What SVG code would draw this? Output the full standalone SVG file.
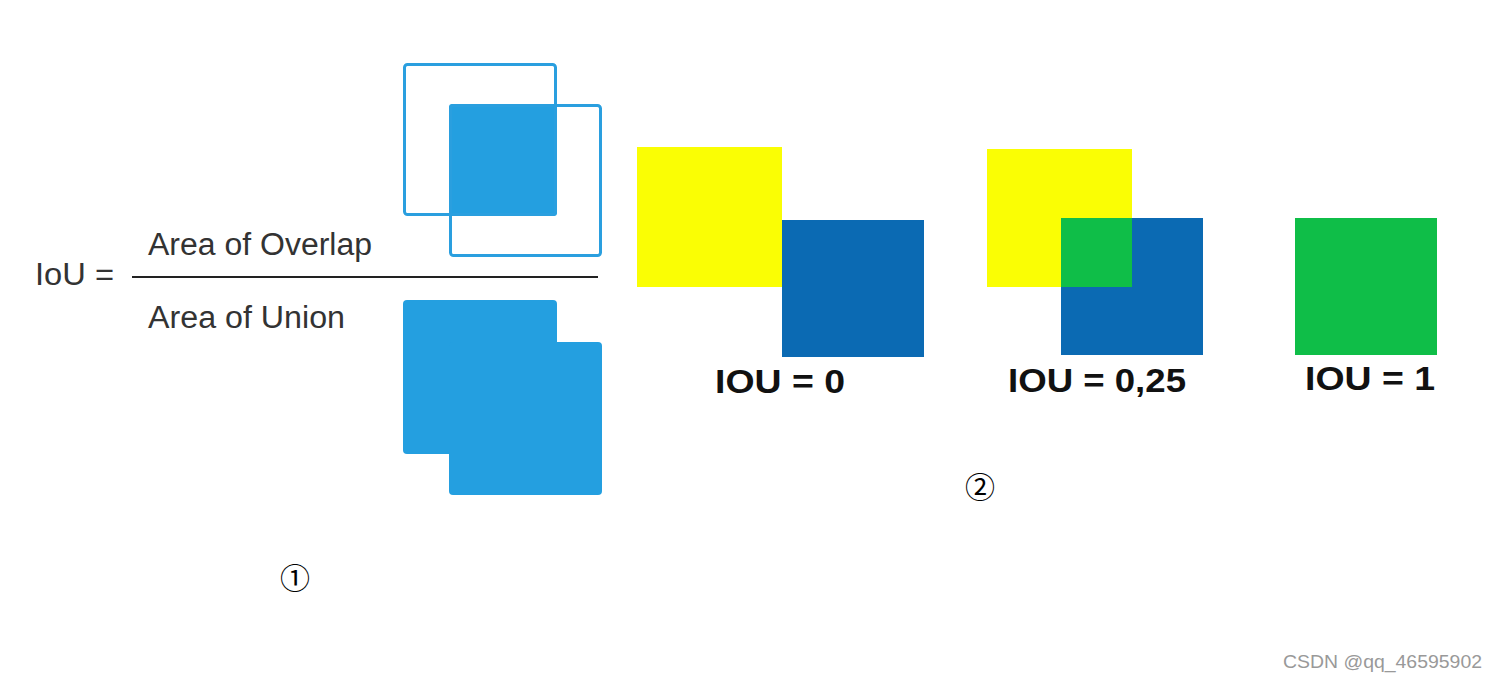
<svg xmlns="http://www.w3.org/2000/svg" width="1496" height="682" viewBox="0 0 1496 682">
  <style>
    .formula { font-family: "Liberation Sans", Arial, sans-serif; fill: #333333; font-size: 31px; }
    .lb { fill: #249fe0; }
    .lbo { fill: none; stroke: #2a9fdf; stroke-width: 3; }
    .yellow { fill: #fafe04; }
    .blue { fill: #0b6ab3; }
    .green { fill: #0fbe48; }
    .iou { font-family: "Liberation Sans", Arial, sans-serif; font-weight: bold; font-size: 34px; fill: #111111; }
    .num { font-family: "Noto Sans CJK SC", "DejaVu Sans", sans-serif; font-size: 30px; fill: #000000; }
  </style>
  <rect width="1496" height="682" fill="#ffffff"/>

  <g id="formula">
    <text class="formula" x="35" y="285" textLength="79" lengthAdjust="spacingAndGlyphs">IoU =</text>
    <text class="formula" x="148" y="255" textLength="224" lengthAdjust="spacingAndGlyphs">Area of Overlap</text>
    <line x1="132" y1="277" x2="598" y2="277" stroke="#222222" stroke-width="2"/>
    <text class="formula" x="148" y="328" textLength="197" lengthAdjust="spacingAndGlyphs">Area of Union</text>
  </g>

  <g id="overlap-icon">
    <rect class="lb" x="449" y="104" width="108" height="112" rx="3"/>
    <rect class="lbo" x="404.5" y="64.5" width="151" height="150" rx="3"/>
    <rect class="lbo" x="450.5" y="105.5" width="150" height="150" rx="3"/>
  </g>

  <g id="union-icon">
    <rect class="lb" x="403" y="300" width="154" height="154" rx="4"/>
    <rect class="lb" x="449" y="342" width="153" height="153" rx="4"/>
  </g>

  <g id="label-1">
    <text class="num" x="295" y="589" text-anchor="middle">①</text>
  </g>

  <g id="iou-0">
    <rect class="yellow" x="637" y="147" width="145" height="140"/>
    <rect class="blue" x="782" y="220" width="142" height="137"/>
    <text class="iou" x="715" y="393" textLength="130" lengthAdjust="spacingAndGlyphs">IOU = 0</text>
  </g>

  <g id="iou-025">
    <rect class="yellow" x="987" y="149" width="145" height="138"/>
    <rect class="blue" x="1061" y="218" width="142" height="137"/>
    <rect class="green" x="1061" y="218" width="71" height="69"/>
    <text class="iou" x="1008" y="392" textLength="178" lengthAdjust="spacingAndGlyphs">IOU = 0,25</text>
  </g>

  <g id="iou-1">
    <rect class="green" x="1295" y="218" width="142" height="137"/>
    <text class="iou" x="1305" y="390" textLength="130" lengthAdjust="spacingAndGlyphs">IOU = 1</text>
  </g>

  <g id="label-2">
    <text class="num" x="980" y="498" text-anchor="middle">②</text>
  </g>

  <g id="watermark">
    <text x="1283" y="668" font-family="Liberation Sans, Arial, sans-serif" font-size="18" fill="#999999" textLength="199" lengthAdjust="spacingAndGlyphs">CSDN @qq_46595902</text>
  </g>
</svg>
